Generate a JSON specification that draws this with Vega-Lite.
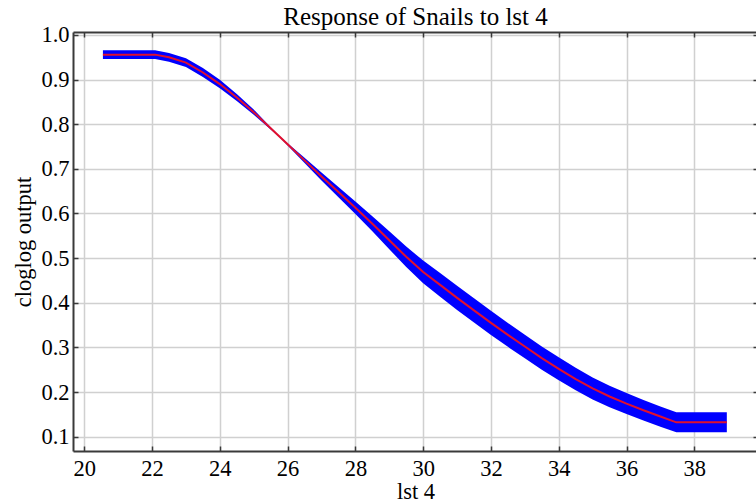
{
  "$schema": "https://vega.github.io/schema/vega-lite/v6.json",
  "autosize": {"type": "none"},
  "padding": {"left": 73, "top": 32, "right": 0, "bottom": 53},
  "width": 685,
  "height": 419,
  "title": {
    "text": "Response of Snails to lst 4",
    "font": "Liberation Serif",
    "fontSize": 25,
    "fontWeight": "normal",
    "color": "#000000",
    "offset": 2,
    "dy": 8
  },
  "config": {
    "view": {"stroke": null},
    "axis": {
      "labelFont": "Liberation Serif",
      "labelFontSize": 22.5,
      "labelColor": "#000000",
      "titleFont": "Liberation Serif",
      "titleFontSize": 22.5,
      "titleFontWeight": "normal",
      "titleColor": "#000000",
      "domainColor": "#3a3a3a",
      "domainWidth": 2,
      "tickColor": "#3a3a3a",
      "tickWidth": 1.5,
      "tickSize": -5,
      "gridColor": "#d0d0d0",
      "gridWidth": 1.5
    }
  },
  "data": {
    "values": [
      {"x": 20.55, "y": 0.956, "lo": 0.9464, "hi": 0.9656},
      {"x": 22.09, "y": 0.956, "lo": 0.9464, "hi": 0.9656},
      {"x": 22.5, "y": 0.950, "lo": 0.9402, "hi": 0.9598},
      {"x": 23.0, "y": 0.938, "lo": 0.928, "hi": 0.948},
      {"x": 23.5, "y": 0.916, "lo": 0.906, "hi": 0.926},
      {"x": 24.0, "y": 0.890, "lo": 0.8805, "hi": 0.8995},
      {"x": 24.5, "y": 0.860, "lo": 0.852, "hi": 0.868},
      {"x": 25.0, "y": 0.827, "lo": 0.821, "hi": 0.833},
      {"x": 25.5, "y": 0.791, "lo": 0.7885, "hi": 0.7935},
      {"x": 25.75, "y": 0.773, "lo": 0.772, "hi": 0.774},
      {"x": 26.0, "y": 0.755, "lo": 0.7525, "hi": 0.7575},
      {"x": 26.5, "y": 0.719, "lo": 0.713, "hi": 0.725},
      {"x": 27.0, "y": 0.683, "lo": 0.674, "hi": 0.692},
      {"x": 27.5, "y": 0.648, "lo": 0.6365, "hi": 0.6595},
      {"x": 28.0, "y": 0.613, "lo": 0.599, "hi": 0.627},
      {"x": 28.5, "y": 0.577, "lo": 0.560, "hi": 0.594},
      {"x": 29.0, "y": 0.540, "lo": 0.520, "hi": 0.560},
      {"x": 29.5, "y": 0.503, "lo": 0.480, "hi": 0.526},
      {"x": 30.0, "y": 0.469, "lo": 0.4435, "hi": 0.4945},
      {"x": 30.5, "y": 0.440, "lo": 0.4135, "hi": 0.4665},
      {"x": 31.0, "y": 0.411, "lo": 0.384, "hi": 0.438},
      {"x": 31.5, "y": 0.383, "lo": 0.356, "hi": 0.410},
      {"x": 32.0, "y": 0.355, "lo": 0.328, "hi": 0.382},
      {"x": 32.5, "y": 0.328, "lo": 0.3012, "hi": 0.3548},
      {"x": 33.0, "y": 0.302, "lo": 0.2755, "hi": 0.3285},
      {"x": 33.5, "y": 0.276, "lo": 0.2498, "hi": 0.3022},
      {"x": 34.0, "y": 0.252, "lo": 0.2262, "hi": 0.2778},
      {"x": 34.5, "y": 0.229, "lo": 0.2038, "hi": 0.2542},
      {"x": 35.0, "y": 0.208, "lo": 0.1834, "hi": 0.2326},
      {"x": 35.5, "y": 0.190, "lo": 0.166, "hi": 0.214},
      {"x": 36.0, "y": 0.174, "lo": 0.1505, "hi": 0.1975},
      {"x": 36.5, "y": 0.159, "lo": 0.136, "hi": 0.182},
      {"x": 37.0, "y": 0.145, "lo": 0.1224, "hi": 0.1676},
      {"x": 37.47, "y": 0.132, "lo": 0.1096, "hi": 0.1544},
      {"x": 38.96, "y": 0.132, "lo": 0.1096, "hi": 0.1544}
    ]
  },
  "encoding": {
    "x": {
      "field": "x",
      "type": "quantitative",
      "scale": {"domain": [19.667, 39.88], "nice": false, "zero": false}
    }
  },
  "layer": [
    {
      "mark": {"type": "area", "color": "#0000ff", "opacity": 1},
      "encoding": {
        "x": {
          "field": "x",
          "type": "quantitative",
          "axis": {
            "orient": "bottom",
            "title": "lst 4",
            "values": [20, 22, 24, 26, 28, 30, 32, 34, 36, 38],
            "format": "d",
            "labelFont": "Liberation Serif",
            "labelFontSize": 22.5,
            "labelColor": "#000000",
            "labelPadding": 11,
            "titlePadding": 1,
            "grid": true
          }
        },
        "y": {
          "field": "lo",
          "type": "quantitative",
          "scale": {"domain": [0.0678, 1.0067], "nice": false, "zero": false},
          "axis": {
            "orient": "left",
            "title": "cloglog output",
            "values": [0.1, 0.2, 0.3, 0.4, 0.5, 0.6, 0.7, 0.8, 0.9, 1.0],
            "format": ".1f",
            "labelFont": "Liberation Serif",
            "labelFontSize": 22.5,
            "labelColor": "#000000",
            "labelPadding": 9,
            "titlePadding": 5,
            "grid": true
          }
        },
        "y2": {"field": "hi"}
      }
    },
    {
      "mark": {"type": "line", "color": "#e0102e", "strokeWidth": 2},
      "encoding": {
        "x": {
          "field": "x",
          "type": "quantitative",
          "axis": {
            "orient": "top",
            "title": null,
            "values": [20, 22, 24, 26, 28, 30, 32, 34, 36, 38],
            "labels": false,
            "grid": false
          }
        },
        "y": {
          "field": "y",
          "type": "quantitative",
          "axis": {
            "orient": "right",
            "title": null,
            "values": [0.1, 0.2, 0.3, 0.4, 0.5, 0.6, 0.7, 0.8, 0.9, 1.0],
            "labels": false,
            "grid": false
          }
        }
      }
    }
  ],
  "resolve": {"axis": {"x": "independent", "y": "independent"}}
}
